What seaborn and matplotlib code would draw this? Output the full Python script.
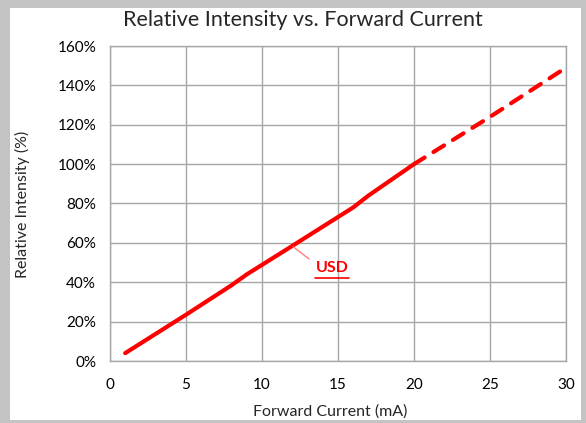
import pandas as pd
import matplotlib.pyplot as plt
import seaborn as sns
from matplotlib.patches import Rectangle
from matplotlib.ticker import PercentFormatter

# Measured part (solid) and extrapolated part (dashed)
current = [1, 5, 8, 9, 12, 16, 17, 20]
intensity = [4, 23.5, 38.5, 44, 58.5, 78, 84, 100]
current_ext = [20, 25, 30]
intensity_ext = [100, 124, 149]

x_ticks = [0, 5, 10, 15, 20, 25, 30]
y_ticks = [0, 20, 40, 60, 80, 100, 120, 140, 160]

sns.set_style("white")
plt.rcParams['font.family'] = ['Lato', 'DejaVu Sans']

solid = pd.DataFrame({'Current': current, 'Intensity': intensity})
dashed = pd.DataFrame({'Current': current_ext, 'Intensity': intensity_ext})

fig = plt.figure(figsize=(5.86, 4.23), dpi=100)
fig.patch.set_facecolor('#c3c3c3')
fig.patches.append(Rectangle((10 / 586, 3 / 423), 571 / 586, 412 / 423,
                             transform=fig.transFigure, facecolor='white',
                             edgecolor='none', zorder=0))
ax = fig.add_axes([110 / 586, 62 / 423, 456 / 586, 315 / 423])
ax.set_zorder(2)
ax.set_facecolor('white')

sns.lineplot(data=solid, x='Current', y='Intensity', ax=ax, color='#ff0000',
             linewidth=3, solid_capstyle='round')
sns.lineplot(data=dashed, x='Current', y='Intensity', ax=ax, color='#ff0000',
             linewidth=3, dashes=False, linestyle=(0, (3, 2.5)), dash_capstyle='round')

ax.set_xlim(0, 30)
ax.set_ylim(0, 160)
ax.set_xticks(x_ticks)
ax.set_yticks(y_ticks)
ax.yaxis.set_major_formatter(PercentFormatter(decimals=0))
ax.grid(True, color='#a6a6a6', linewidth=1)
ax.set_axisbelow(True)
for s in ax.spines.values():
    s.set_color('#a6a6a6')
    s.set_linewidth(1)
ax.tick_params(axis='both', direction='out', length=5, width=1, color='#a6a6a6',
               labelsize=11, labelcolor='black', pad=5)
ax.tick_params(axis='x', pad=7)

fig.text(303 / 586, 1 - 20 / 423, 'Relative Intensity vs. Forward Current',
         fontsize=15.5, ha='center', va='center')
ax.set_xlabel('Forward Current (mA)', fontsize=11.5)
ax.set_ylabel('Relative Intensity (%)', fontsize=11.5)
ax.xaxis.set_label_coords(0.482, -0.159)
ax.yaxis.set_label_coords(-0.193, 0.497)
ax.xaxis.label.set_va('center')
ax.yaxis.label.set_va('center')

# USD callout: label, leader line and underline
ax.text(14.6, 47, 'USD', color='#ff0000', fontsize=11.5, fontweight='bold',
        ha='center', va='center')
ax.plot([12.05, 13.1], [58, 51.8], color='#ff8080', linewidth=1)
ax.plot([13.5, 15.75], [42, 42], color='#ff0000', linewidth=1.2)

fig.savefig('out.png', dpi=100, facecolor=fig.get_facecolor())
